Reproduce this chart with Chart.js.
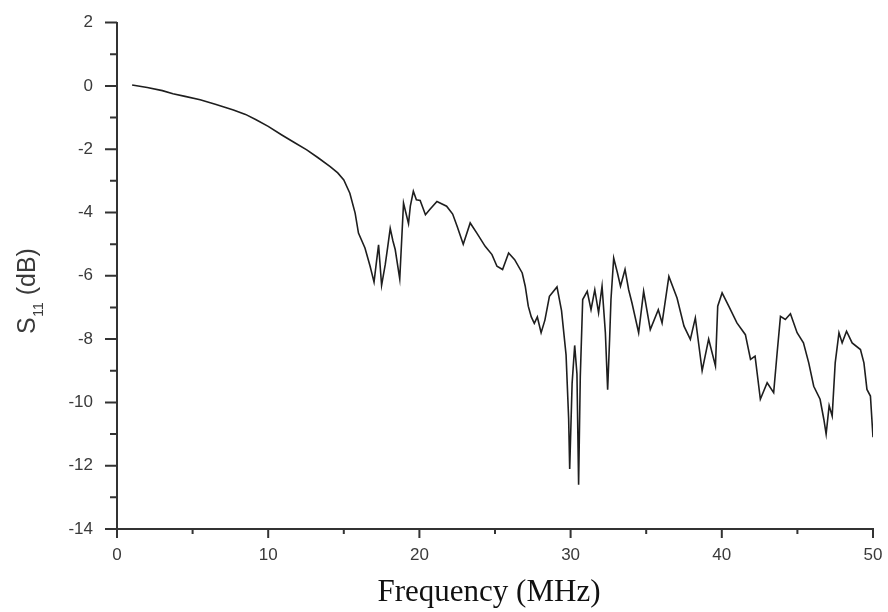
<!DOCTYPE html>
<html>
<head>
<meta charset="utf-8">
<script src="https://cdn.jsdelivr.net/npm/chart.js@4/dist/chart.umd.min.js"></script>
<style>
html,body{margin:0;padding:0;background:#fff;}
#wrap{width:888px;height:612px;}
</style>
</head>
<body>
<div id="wrap"><canvas id="c" width="888" height="612"></canvas></div>
<script>
// Frequency (MHz)
const freq = [1.0,2.0,3.0,3.7,4.5,5.5,6.5,7.7,8.5,9.2,10.0,10.9,11.7,12.55,13.3,14.1,14.6,15.0,15.4,15.75,15.97,16.4,16.74,17.0,17.15,17.3,17.5,17.74,17.9,18.07,18.25,18.4,18.7,18.95,19.1,19.28,19.4,19.6,19.8,20.05,20.4,20.7,21.16,21.8,22.2,22.5,22.9,23.36,23.8,24.35,24.8,25.13,25.5,25.9,26.3,26.8,27.0,27.2,27.4,27.6,27.8,28.05,28.3,28.6,29.1,29.4,29.7,29.87,29.94,30.1,30.27,30.42,30.53,30.64,30.8,31.1,31.35,31.6,31.85,32.08,32.3,32.45,32.58,32.67,32.85,33.1,33.3,33.6,33.84,34.06,34.5,34.83,35.27,35.8,36.05,36.5,37.04,37.5,37.92,38.25,38.7,39.13,39.58,39.73,40.02,40.46,41.0,41.56,41.9,42.2,42.55,43.0,43.43,43.66,43.88,44.2,44.54,44.98,45.4,45.75,46.08,46.5,46.75,46.9,47.1,47.3,47.5,47.75,47.96,48.25,48.62,49.17,49.4,49.6,49.83,50.0];
// S11 (dB)
const s11 = [0.03,-0.05,-0.15,-0.25,-0.33,-0.44,-0.58,-0.76,-0.9,-1.07,-1.28,-1.55,-1.78,-2.02,-2.27,-2.55,-2.75,-2.97,-3.39,-4.02,-4.65,-5.12,-5.7,-6.2,-5.6,-5.02,-6.3,-5.65,-5.1,-4.5,-4.9,-5.17,-6.1,-3.7,-4.0,-4.35,-3.8,-3.33,-3.6,-3.62,-4.07,-3.9,-3.65,-3.8,-4.05,-4.44,-5.0,-4.33,-4.65,-5.07,-5.33,-5.7,-5.8,-5.28,-5.49,-5.91,-6.33,-6.96,-7.3,-7.5,-7.3,-7.8,-7.4,-6.65,-6.35,-7.1,-8.5,-10.5,-12.1,-9.4,-8.2,-9.1,-12.6,-9.2,-6.75,-6.49,-7.07,-6.44,-7.17,-6.33,-7.8,-9.6,-8.0,-6.75,-5.44,-5.91,-6.33,-5.8,-6.44,-6.86,-7.8,-6.49,-7.7,-7.07,-7.49,-6.02,-6.7,-7.59,-8.01,-7.33,-9.0,-8.0,-8.85,-6.96,-6.54,-6.96,-7.49,-7.86,-8.64,-8.54,-9.9,-9.38,-9.69,-8.43,-7.28,-7.38,-7.2,-7.8,-8.12,-8.75,-9.49,-9.9,-10.54,-11.0,-10.1,-10.43,-8.75,-7.8,-8.12,-7.75,-8.12,-8.33,-8.75,-9.59,-9.8,-11.1];
// Axis ticks
const xMajorTicks = [0,10,20,30,40,50];
const xMinorTicks = [5,15,25,35,45];
const yMajorTicks = [-14,-12,-10,-8,-6,-4,-2,0,2];
const yMinorTicks = [-13,-11,-9,-7,-5,-3,-1,1];
const xTitle = 'Frequency (MHz)';
const yTitleMain = 'S';
const yTitleSub = '11';
const yTitleRest = ' (dB)';

const points = freq.map((f,i)=>({x:f,y:s11[i]}));

const axisColor = '#333333';
const sansFamily = 'Arial, "Liberation Sans", sans-serif';
const tickFont = {family:sansFamily, size:17};

const decorations = {
  id:'decorations',
  afterDraw(chart){
    const {ctx, scales:{x,y}, chartArea:a} = chart;
    ctx.save();
    // tick marks
    ctx.strokeStyle = axisColor;
    ctx.lineWidth = 2;
    ctx.beginPath();
    yMajorTicks.forEach(v=>{const p=y.getPixelForValue(v); ctx.moveTo(a.left-12,p); ctx.lineTo(a.left,p);});
    yMinorTicks.forEach(v=>{const p=y.getPixelForValue(v); ctx.moveTo(a.left-7,p); ctx.lineTo(a.left,p);});
    xMajorTicks.forEach(v=>{const p=x.getPixelForValue(v); ctx.moveTo(p,a.bottom); ctx.lineTo(p,a.bottom+9);});
    xMinorTicks.forEach(v=>{const p=x.getPixelForValue(v); ctx.moveTo(p,a.bottom); ctx.lineTo(p,a.bottom+5);});
    ctx.stroke();
    // y title with subscript
    ctx.fillStyle = '#3a3a3a';
    ctx.textAlign = 'left';
    ctx.textBaseline = 'alphabetic';
    ctx.translate(35, 334);
    ctx.rotate(-Math.PI/2);
    ctx.font = '25px ' + sansFamily;
    ctx.fillText(yTitleMain, 0, 0);
    let w = ctx.measureText(yTitleMain).width;
    ctx.font = '14px ' + sansFamily;
    ctx.fillText(yTitleSub, w + 0.5, 8);
    w += ctx.measureText(yTitleSub).width + 0.5;
    ctx.font = '25px ' + sansFamily;
    ctx.fillText(yTitleRest, w, 0);
    ctx.restore();
    // x title
    ctx.save();
    ctx.fillStyle = '#111';
    ctx.font = '31px "Times New Roman", "Liberation Serif", serif';
    ctx.textAlign = 'center';
    ctx.textBaseline = 'alphabetic';
    ctx.fillText(xTitle, 489, 601);
    ctx.restore();
  }
};

new Chart(document.getElementById('c'), {
  type:'line',
  data:{datasets:[{data:points, borderColor:'#1e1e1e', borderWidth:1.6, pointRadius:0, tension:0, fill:false}]},
  options:{
    responsive:false,
    animation:false,
    layout:{padding:{top:22.6,right:15,bottom:0,left:0}},
    plugins:{legend:{display:false}, tooltip:{enabled:false}},
    scales:{
      x:{type:'linear', min:0, max:50,
        afterFit(s){s.height = 83; s.paddingLeft = 0; s.paddingRight = 0;},
        grid:{display:false, drawTicks:false},
        border:{display:true, color:axisColor, width:2},
        ticks:{stepSize:10, color:'#3a3a3a', font:tickFont, padding:16, maxRotation:0},
        title:{display:false}
      },
      y:{type:'linear', min:-14, max:2,
        afterFit(s){s.width = 117; s.paddingTop = 0; s.paddingBottom = 0;},
        grid:{display:false, drawTicks:false},
        border:{display:true, color:axisColor, width:2},
        ticks:{stepSize:2, color:'#3a3a3a', font:tickFont, padding:24},
        title:{display:false}
      }
    }
  },
  plugins:[decorations]
});
</script>
</body>
</html>
